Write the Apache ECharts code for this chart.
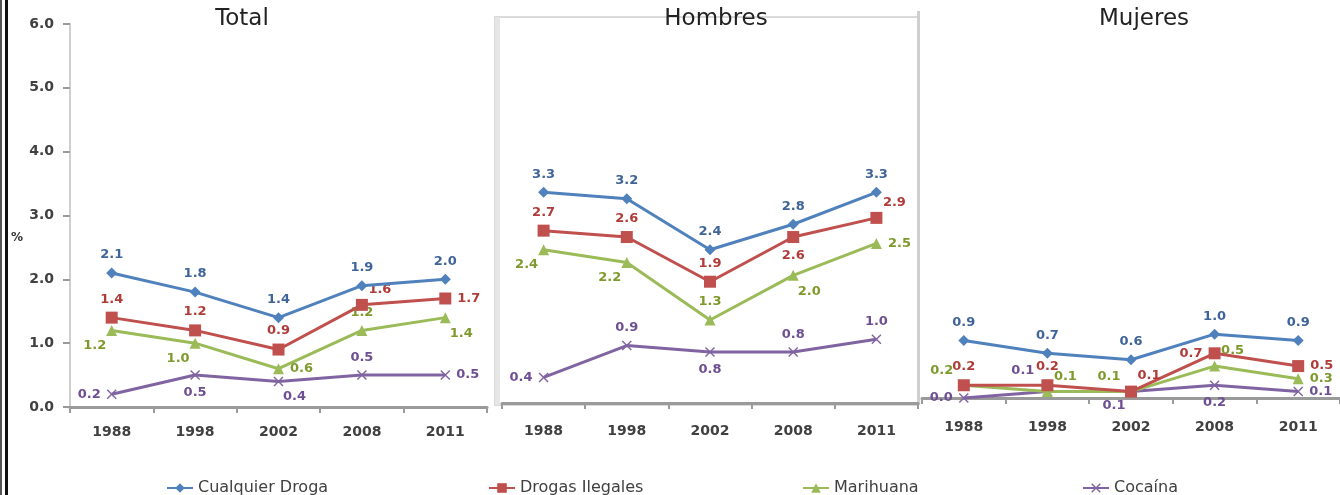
<!DOCTYPE html>
<html>
<head>
<meta charset="utf-8">
<title>Consumo de drogas</title>
<script src="https://cdn.jsdelivr.net/npm/echarts@6/dist/echarts.min.js"></script>
<style>
  html, body { margin: 0; padding: 0; background: #fff; }
  #chart { width: 1340px; height: 495px; }
</style>
</head>
<body>
<div id="chart"></div>
<script>
// categorias y nombres
const years = ['1988', '1998', '2002', '2008', '2011'];
const drugNames = ['Cualquier Droga', 'Drogas Ilegales', 'Marihuana', 'Cocaína'];
const panelTitles = ['Total', 'Hombres', 'Mujeres'];

// valores (%)
const totalCualquier = [2.1, 1.8, 1.4, 1.9, 2.0];
const totalIlegales = [1.4, 1.2, 0.9, 1.6, 1.7];
const totalMarihuana = [1.2, 1.0, 0.6, 1.2, 1.4];
const totalCocaina = [0.2, 0.5, 0.4, 0.5, 0.5];

const hombresCualquier = [3.3, 3.2, 2.4, 2.8, 3.3];
const hombresIlegales = [2.7, 2.6, 1.9, 2.6, 2.9];
const hombresMarihuana = [2.4, 2.2, 1.3, 2.0, 2.5];
const hombresCocaina = [0.4, 0.9, 0.8, 0.8, 1.0];

const mujeresCualquier = [0.9, 0.7, 0.6, 1.0, 0.9];
const mujeresIlegales = [0.2, 0.2, 0.1, 0.7, 0.5];
const mujeresMarihuana = [0.2, 0.1, 0.1, 0.5, 0.3];
const mujeresCocaina = [0.0, 0.1, 0.1, 0.2, 0.1];

const panelValues = [
  [totalCualquier, totalIlegales, totalMarihuana, totalCocaina],
  [hombresCualquier, hombresIlegales, hombresMarihuana, hombresCocaina],
  [mujeresCualquier, mujeresIlegales, mujeresMarihuana, mujeresCocaina]
];

// donde va cada etiqueta (como en el Excel original)
const labelSpots = [
  [['n', 'n', 'n', 'n', 'n'], ['n', 'n', 'n', 'ne', 'e'], ['sw', 'sw', 'e', 'n', 'se'], ['w', 's', 'se', 'n', 'e']],
  [['n', 'n', 'n', 'n', 'n'], ['n', 'n', 'n', 's', 'ne'], ['sw', 'sw', 'n', 'se', 'e'], ['w', 'n', 's', 'n', 'n']],
  [['n', 'n', 'n', 'n', 'n'], ['n', 'n', 'ne', 'w', 'e'], ['nw', 'ne', 'nw', 'ne', 'e'], ['w', 'wnw', 'sw', 's', 'e']]
];

const spotStyle = {
  n: { position: 'top' },
  s: { position: 'bottom' },
  e: { position: 'right' },
  w: { position: 'left' },
  ne: { position: 'top', offset: [18, 3] },
  nw: { position: 'top', offset: [-22, 3] },
  wnw: { position: 'left', offset: [-2, -21] },
  se: { position: 'bottom', offset: [16, -2] },
  sw: { position: 'bottom', offset: [-17, -3] }
};

const lineColors = ['#4F81BD', '#C0504D', '#9BBB59', '#8064A2'];
const labelColors = ['#3F6499', '#B03C39', '#7E9A2C', '#6E4F93'];
const xSymbol = 'path://M0,1 L1,0 L5,4 L9,0 L10,1 L6,5 L10,9 L9,10 L5,6 L1,10 L0,9 L4,5 Z';
const symbols = ['diamond', 'rect', 'triangle', xSymbol];
const symbolSizes = [11, 12, 11, 10];

const FONT = 'DejaVu Sans';

// posicion de cada panel
const grids = [
  { left: 70, right: 853, top: 24, bottom: 88 },
  { left: 502, right: 422, top: 20, bottom: 92 },
  { left: 922, right: -3, top: 15, bottom: 97 }
];
const labelMargins = [18, 21, 22];
const titleCenters = [242, 716, 1144];
const legendLefts = [166, 488, 802, 1082];

const xAxes = grids.map((g, i) => ({
  type: 'category',
  gridIndex: i,
  data: years,
  boundaryGap: true,
  axisLine: { lineStyle: { color: '#9A9A9A', width: 3 } },
  axisTick: { show: true, length: 6, lineStyle: { color: '#9A9A9A', width: 2 } },
  axisLabel: { color: '#404040', fontFamily: FONT, fontWeight: 'bold', fontSize: 14, margin: labelMargins[i] }
}));

const yAxes = grids.map((g, i) => ({
  type: 'value',
  gridIndex: i,
  min: 0,
  max: 6,
  interval: 1,
  show: i === 0,
  splitLine: { show: false },
  axisLine: { show: true, lineStyle: { color: '#CFCFCF', width: 2 } },
  axisTick: { show: true, length: 7, lineStyle: { color: '#999', width: 2 } },
  axisLabel: {
    color: '#404040', fontFamily: FONT, fontWeight: 'bold', fontSize: 14, margin: 16,
    formatter: v => v.toFixed(1)
  }
}));

const series = [];
panelValues.forEach((panel, p) => {
  panel.forEach((vals, s) => {
    series.push({
      name: drugNames[s],
      type: 'line',
      xAxisIndex: p,
      yAxisIndex: p,
      symbol: symbols[s],
      symbolSize: symbolSizes[s],
      lineStyle: { color: lineColors[s], width: 3 },
      itemStyle: { color: lineColors[s] },
      label: {
        show: true,
        color: labelColors[s],
        fontFamily: FONT,
        fontWeight: 'bold',
        fontSize: 13,
        distance: 6,
        formatter: d => d.value.toFixed(1)
      },
      data: vals.map((v, k) => ({ value: v, label: spotStyle[labelSpots[p][s][k]] })),
      z: 10 - s
    });
  });
});

const chart = echarts.init(document.getElementById('chart'));

chart.setOption({
  animation: false,
  backgroundColor: '#fff',
  title: panelTitles.map((t, i) => ({
    text: t,
    left: titleCenters[i],
    top: 8,
    padding: 0,
    textAlign: 'center',
    textStyle: { fontFamily: FONT, fontWeight: 'normal', fontSize: 23, color: '#222' }
  })),
  legend: drugNames.map((n, i) => ({
    data: [n],
    left: legendLefts[i],
    top: 480,
    padding: 0,
    itemWidth: 26,
    itemHeight: 12,
    textStyle: { fontFamily: FONT, fontSize: 16, color: '#404040' }
  })),
  grid: grids,
  xAxis: xAxes,
  yAxis: yAxes,
  series,
  graphic: [
    // marcos de la imagen original
    { type: 'rect', shape: { x: 0, y: 0, width: 2, height: 495 }, style: { fill: '#555' } },
    { type: 'rect', shape: { x: 5, y: 0, width: 3, height: 495 }, style: { fill: '#111' } },
    { type: 'rect', shape: { x: 495, y: 17, width: 423, height: 388 }, style: { fill: 'none', stroke: '#D9D9D9', lineWidth: 2 } },
    { type: 'rect', shape: { x: 495, y: 17, width: 5, height: 388 }, style: { fill: '#E6E6E6' } },
    { type: 'rect', shape: { x: 917, y: 11, width: 3, height: 394 }, style: { fill: '#CFCFCF' } },
    {
      type: 'text', left: 11, top: 232,
      style: { text: '%', fontFamily: FONT, fontWeight: 'bold', fontSize: 12, fill: '#333' }
    }
  ]
});
</script>
</body>
</html>
